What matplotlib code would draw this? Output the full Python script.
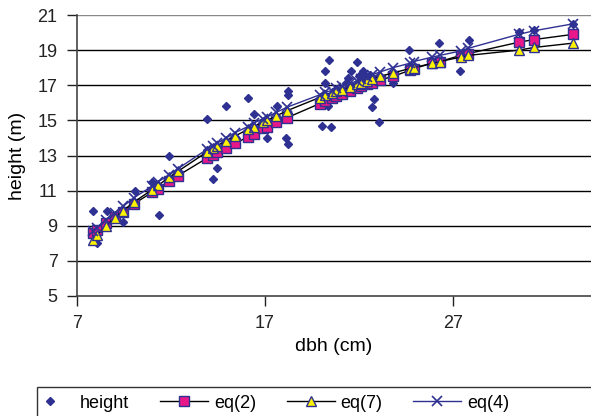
import matplotlib
matplotlib.use("Agg")
import matplotlib.pyplot as plt
from matplotlib.patches import Rectangle

plt.rcParams['font.family'] = ['Liberation Sans', 'DejaVu Sans']

# observed heights (scatter)
obs_dbh = [7.85, 8.06, 7.9, 8.6, 8.54, 9.02, 9.45, 10.09, 10.99, 11.36, 11.89, 12.37,
           13.91, 14.23, 14.45, 14.93, 13.91, 15.4, 16.1, 16.41, 16.89, 17.11, 17.64,
           18.2, 18.2, 18.1, 18.2, 18.2, 20.03, 20.5, 20.4, 20.2, 20.2, 20.35, 21.9, 21.6,
           21.4, 22.2, 22.3, 22.8, 22.7, 23.06, 20.0, 20.6, 21.0, 21.2, 21.5, 21.8,
           22.1, 22.4, 22.7, 23.0, 21.3, 22.0, 22.6, 20.8, 23.8, 24.66, 24.9, 25.9,
           26.26, 27.37, 27.85, 30.5, 31.3, 33.4]
obs_h = [9.84, 8.0, 8.6, 9.84, 9.2, 9.55, 9.2, 11.0, 11.5, 9.6, 13.0, 12.1,
         15.1, 11.65, 12.3, 15.8, 13.3, 13.9, 16.3, 15.35, 14.9, 14.0, 15.8,
         16.7, 16.45, 14.0, 13.65, 15.4, 14.7, 14.6, 18.45, 17.8, 17.1, 15.8, 18.3, 17.8,
         17.4, 17.8, 17.6, 16.2, 15.75, 14.9, 16.1, 16.4, 16.5, 16.7, 16.8, 16.9,
         17.0, 17.2, 17.2, 17.4, 17.1, 17.5, 17.6, 16.8, 17.1, 19.0, 17.9, 18.3,
         19.4, 17.8, 19.6, 20.05, 20.15, 20.5]

# model predictions
dbh = [7.85, 8.06, 8.54, 9.02, 9.45, 10.03, 10.99, 11.31, 11.89, 12.37, 13.91, 14.23,
       14.45, 14.93, 15.40, 16.10, 16.41, 16.89, 17.11, 17.59, 18.17, 19.9, 20.2, 20.56,
       20.8, 21.1, 21.5, 21.9, 22.1, 22.4, 22.7, 23.1, 23.8, 24.7, 24.9, 25.9, 26.3,
       27.4, 27.8, 30.5, 31.3, 33.4]
eq2 = [8.6, 8.75, 9.15, 9.5, 9.8, 10.25, 10.9, 11.1, 11.55, 11.85, 12.85, 13.05,
       13.2, 13.45, 13.7, 14.05, 14.25, 14.55, 14.65, 14.9, 15.15, 15.95, 16.1, 16.25,
       16.4, 16.5, 16.65, 16.85, 16.95, 17.05, 17.15, 17.3, 17.5, 17.85, 17.95, 18.25,
       18.35, 18.7, 18.8, 19.45, 19.6, 19.9]
eq7 = [8.2, 8.45, 9.0, 9.45, 9.85, 10.35, 11.05, 11.3, 11.75, 12.1, 13.2, 13.4,
       13.55, 13.85, 14.1, 14.5, 14.65, 14.9, 15.0, 15.25, 15.55, 16.3, 16.45, 16.55,
       16.65, 16.75, 16.9, 17.05, 17.15, 17.25, 17.35, 17.5, 17.7, 17.95, 18.0, 18.25,
       18.35, 18.6, 18.7, 19.0, 19.15, 19.4]
eq4 = [8.7, 8.9, 9.35, 9.75, 10.1, 10.6, 11.25, 11.5, 11.9, 12.25, 13.35, 13.55,
       13.7, 14.0, 14.3, 14.65, 14.85, 15.1, 15.2, 15.45, 15.75, 16.45, 16.6, 16.7,
       16.85, 16.95, 17.1, 17.25, 17.35, 17.45, 17.6, 17.75, 18.0, 18.25, 18.35, 18.6,
       18.7, 18.95, 19.1, 19.9, 20.1, 20.5]

x_ticks = [7, 17, 27]
y_ticks = [5, 7, 9, 11, 13, 15, 17, 19, 21]

navy = '#2E3192'
magenta = '#E8178A'
yellow = '#FFF200'

W, H = 591, 416
fig = plt.figure(figsize=(W / 100, H / 100), dpi=100)
ax = fig.add_axes([77 / W, 1 - 296 / H, 1 - 77 / W, (296 - 15) / H])

for y in y_ticks[1:]:
    ax.axhline(y, color='black' if y != 21 else '#888888', lw=1.0, zorder=1)

h1, = ax.plot(obs_dbh, obs_h, linestyle='none', marker='D', ms=4.5, color=navy,
              mec=navy, zorder=3, label='height')
h2, = ax.plot(dbh, eq2, color='black', lw=1.0, marker='s', ms=7, mfc=magenta,
              mec=navy, mew=1.0, zorder=4, label='eq(2)')
h3, = ax.plot(dbh, eq7, color='black', lw=1.0, marker='^', ms=7, mfc=yellow,
              mec=navy, mew=1.0, zorder=5, label='eq(7)')
h4, = ax.plot(dbh, eq4, color=navy, lw=1.0, marker='x', ms=7, mec=navy,
              mew=1.2, zorder=6, label='eq(4)')

ax.set_xlim(7, 7 + (W - 77) / 18.8)
ax.set_ylim(5, 21)
ax.set_xticks(x_ticks)
ax.set_yticks(y_ticks)
ax.tick_params(direction='out', length=7, width=1.0, labelsize=13, pad=7,
               colors='#222222')
for s in ['top', 'right']:
    ax.spines[s].set_visible(False)
ax.spines['left'].set_color('#444444')
ax.spines['bottom'].set_color('#444444')
ax.spines['left'].set_linewidth(1.2)
ax.spines['bottom'].set_linewidth(1.2)
ax.set_xlabel('dbh (cm)', fontsize=14, labelpad=4)
ax.set_ylabel('height (m)', fontsize=14, labelpad=8)

# legend frame
fig.patches.append(Rectangle((37 / W, -0.2), 1.0, 0.2 + 1 - 387 / H,
                             transform=fig.transFigure, fill=False,
                             edgecolor='#333333', lw=1.0))
fig.legend(handles=[h1, h2, h3, h4], loc='center left',
           bbox_to_anchor=(26 / W, 1 - 403 / H), ncol=4, frameon=False,
           fontsize=13, handlelength=2.66, handletextpad=0.33, columnspacing=1.7,
           borderpad=0, borderaxespad=0)

fig.savefig('out.png', dpi=100)
